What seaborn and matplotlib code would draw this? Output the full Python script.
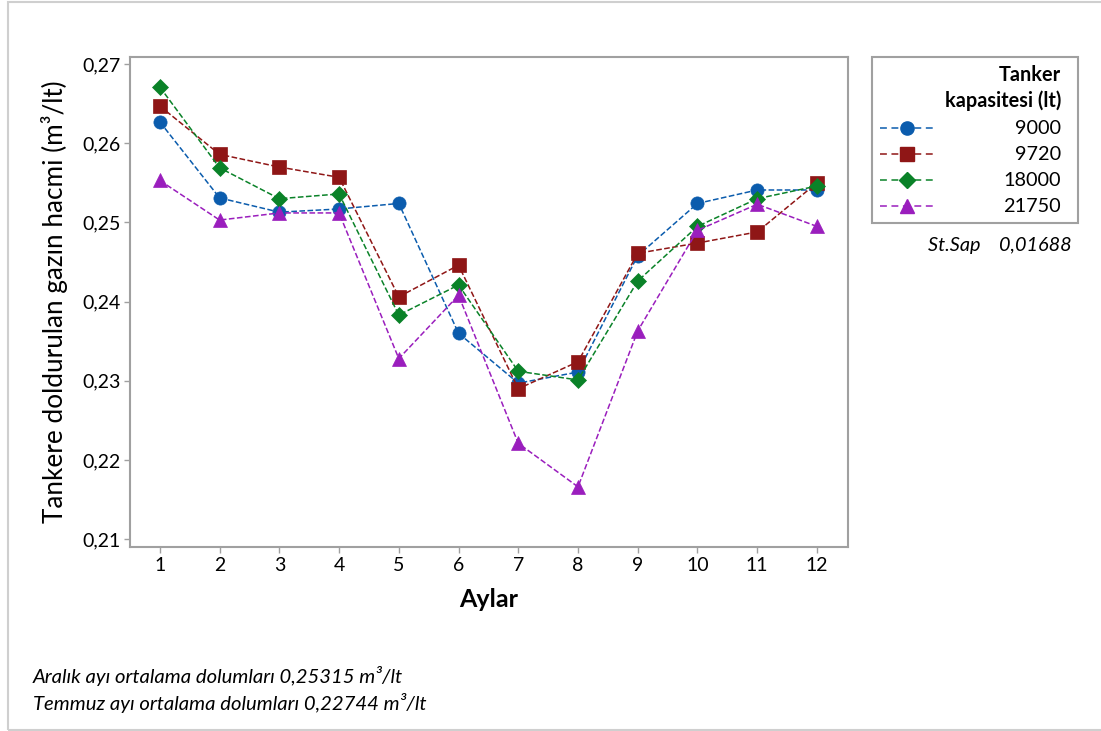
import matplotlib.pyplot as plt
import numpy as np
import pandas as pd
import seaborn as sns
from matplotlib.lines import Line2D
from matplotlib.patches import Rectangle

# Data
months = list(range(1, 13))
cap_9000 = [0.2627, 0.2531, 0.2513, 0.2517, 0.2524, 0.2360,
            0.2297, 0.2311, 0.2458, 0.2524, 0.2541, 0.2541]
cap_9720 = [0.2647, 0.2586, 0.2570, 0.2557, 0.2406, 0.2446,
            0.2290, 0.2324, 0.2461, 0.2474, 0.2488, 0.2550]
cap_18000 = [0.2671, 0.2569, 0.2530, 0.2536, 0.2383, 0.2421,
             0.2312, 0.2301, 0.2426, 0.2495, 0.2530, 0.2546]
cap_21750 = [0.2553, 0.2503, 0.2512, 0.2512, 0.2328, 0.2408,
             0.2221, 0.2166, 0.2363, 0.2490, 0.2523, 0.2495]
series_labels = ['9000', '9720', '18000', '21750']
y_ticks = [0.21, 0.22, 0.23, 0.24, 0.25, 0.26, 0.27]
st_sap = '0,01688'
note_lines = ['Aralık ayı ortalama dolumları 0,25315 m³/lt',
              'Temmuz ayı ortalama dolumları 0,22744 m³/lt']

df = pd.DataFrame({'Ay': months, '9000': cap_9000, '9720': cap_9720,
                   '18000': cap_18000, '21750': cap_21750})
df_long = df.melt(id_vars='Ay', var_name='Tanker', value_name='Hacim')

colors = {'9000': '#0B5CAD', '9720': '#8F1616',
          '18000': '#0A8228', '21750': '#9A1EBD'}
markers = {'9000': 'o', '9720': 's', '18000': 'D', '21750': '^'}
msizes = {'9000': 9.5, '9720': 9.5, '18000': 8.5, '21750': 10.5}

sns.set_theme(style='white', rc={'text.color': 'black',
                                 'axes.labelcolor': 'black'})
plt.rcParams['font.family'] = ['Lato', 'DejaVu Sans']
frame_gray = '#a0a0a0'

fig = plt.figure(figsize=(11.01, 7.31), dpi=100)
ax = fig.add_axes([130 / 1101, 1 - 547 / 731, 718 / 1101, 490 / 731])

for lab in series_labels:
    sub = df_long[df_long['Tanker'] == lab]
    sns.lineplot(data=sub, x='Ay', y='Hacim', ax=ax, color=colors[lab],
                 marker=markers[lab], markersize=msizes[lab],
                 markeredgecolor=colors[lab], markeredgewidth=0.5,
                 linestyle='--', dashes=(4.5, 3), linewidth=1.1,
                 legend=False)

ax.set_xlim(0.5, 12.52)
ax.set_ylim(0.209, 0.2709)
ax.set_xticks(months)
ax.set_xticklabels([str(m) for m in months], fontsize=14)
ax.set_yticks(y_ticks)
ax.set_yticklabels([f'{v:.2f}'.replace('.', ',') for v in y_ticks], fontsize=14)
ax.tick_params(axis='both', direction='out', length=4, width=1,
               color=frame_gray, labelcolor='black', pad=3,
               left=True, bottom=True)
for sp in ax.spines.values():
    sp.set_color(frame_gray)
    sp.set_linewidth(1.5)
ax.set_xlabel('Aylar', fontsize=18, fontweight='bold', labelpad=10)
ax.set_ylabel('Tankere doldurulan gazın hacmi (m³/lt)', fontsize=18.8,
              labelpad=10)

# Legend box drawn in figure coordinates
W, H = 1101, 731
def fx(px):
    return px / W
def fy(py):
    return 1 - py / H

fig.patches.append(Rectangle((fx(872), fy(223)), fx(1078) - fx(872),
                             fy(57) - fy(223), transform=fig.transFigure,
                             facecolor='white', edgecolor=frame_gray, lw=1.5))
fig.text(fx(1061), fy(75), 'Tanker', ha='right', va='center',
         fontsize=14.3, fontweight='bold')
fig.text(fx(1061), fy(101), 'kapasitesi (lt)', ha='right', va='center',
         fontsize=14.3, fontweight='bold')
for i, lab in enumerate(series_labels):
    yy = fy(128 + i * 26)
    fig.lines.append(Line2D([fx(880), fx(935)], [yy, yy], transform=fig.transFigure,
                            color=colors[lab], linestyle='--', dashes=(4.5, 3),
                            linewidth=1.1))
    fig.lines.append(Line2D([fx(907)], [yy], transform=fig.transFigure,
                            color=colors[lab], marker=markers[lab],
                            markersize=msizes[lab], markeredgecolor=colors[lab],
                            linestyle='none'))
    fig.text(fx(1061), yy, lab, ha='right', va='center', fontsize=14.3)

fig.text(fx(1072), fy(246), 'St.Sap    ' + st_sap, ha='right', va='center',
         fontsize=14.3, style='italic')

fig.text(fx(33), fy(676), note_lines[0], ha='left', va='center',
         fontsize=14.6, style='italic')
fig.text(fx(33), fy(703), note_lines[1], ha='left', va='center',
         fontsize=14.6, style='italic')

# outer frame of the original screenshot
fig.patches.append(Rectangle((fx(8), fy(730)), 1.1, fy(2) - fy(730),
                             transform=fig.transFigure, facecolor='none',
                             edgecolor='#cfcfcf', lw=1.5))

fig.savefig('out.png', dpi=100)
